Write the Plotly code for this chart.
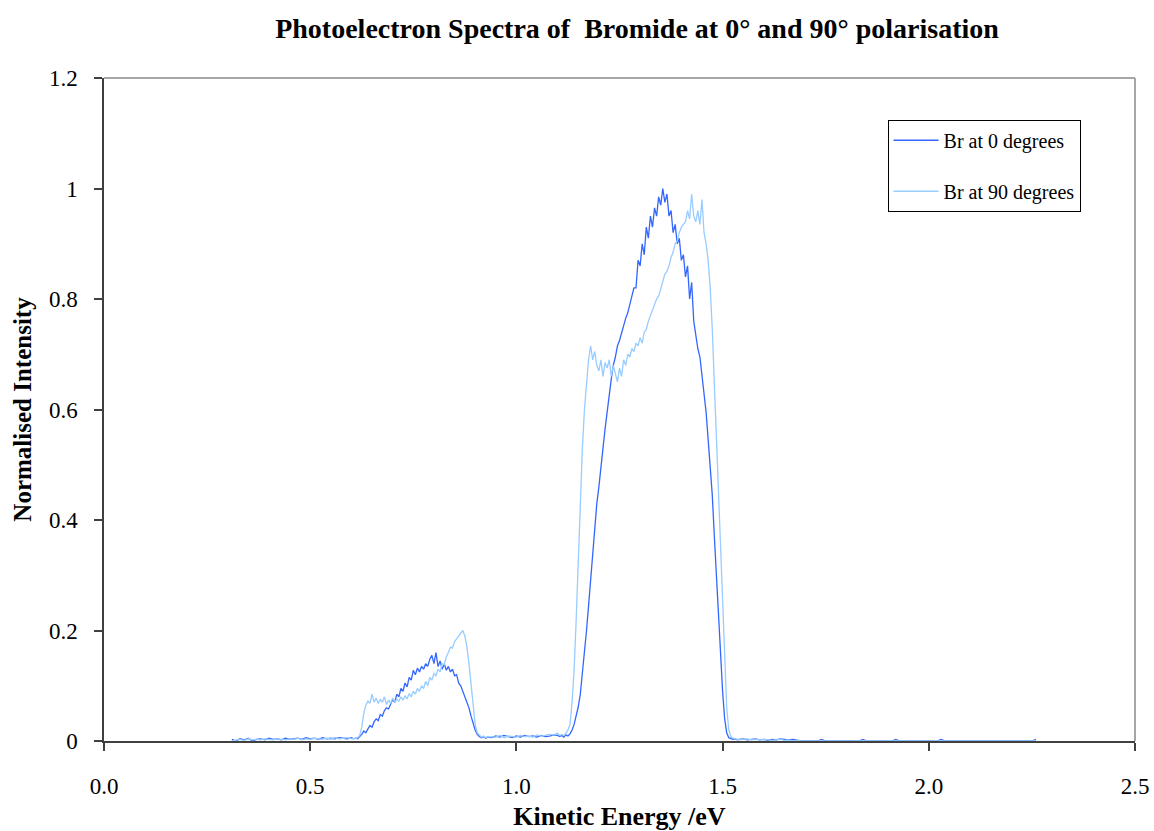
import numpy as np
import plotly.graph_objects as go

# ---------------- data ----------------
# segment 1: low-energy baseline, 0.31 .. 0.60 eV, step 0.01
seg1_start, seg1_step = 0.31, 0.01
br0_seg1 = [0.003, 0.0, 0.004, 0.002, 0.005, 0.0, 0.003, 0.004, 0.002, 0.005,
            0.003, 0.004, 0.002, 0.005, 0.003, 0.004, 0.005, 0.003, 0.006, 0.004,
            0.005, 0.003, 0.006, 0.004, 0.005, 0.004, 0.006, 0.005, 0.004, 0.006]
br90_seg1 = [0.0, 0.002, 0.003, 0.001, 0.004, 0.002, 0.003, 0.002, 0.004, 0.003,
             0.002, 0.004, 0.003, 0.002, 0.004, 0.003, 0.005, 0.002, 0.004, 0.003,
             0.005, 0.004, 0.003, 0.005, 0.004, 0.006, 0.004, 0.005, 0.006, 0.004]

# segment 2: first band, 0.605 .. 0.930 eV, step 0.005
seg2_start, seg2_step = 0.605, 0.005
br0_seg2 = [0.004, 0.005, 0.004, 0.008, 0.012, 0.018, 0.015, 0.022, 0.028, 0.025,
            0.035, 0.040, 0.037, 0.048, 0.045, 0.055, 0.060, 0.058, 0.068, 0.075,
            0.070, 0.085, 0.080, 0.095, 0.090, 0.105, 0.098, 0.115, 0.110, 0.128,
            0.120, 0.132, 0.125, 0.135, 0.130, 0.140, 0.135, 0.148, 0.155, 0.140,
            0.160, 0.135, 0.145, 0.130, 0.140, 0.128, 0.135, 0.125, 0.130, 0.118,
            0.120, 0.105, 0.100, 0.090, 0.080, 0.072, 0.060, 0.045, 0.032, 0.020,
            0.012, 0.008, 0.006, 0.008, 0.005, 0.007]
br90_seg2 = [0.004, 0.005, 0.006, 0.010, 0.025, 0.050, 0.065, 0.072, 0.068, 0.085,
             0.070, 0.078, 0.068, 0.075, 0.070, 0.080, 0.066, 0.074, 0.068, 0.078,
             0.070, 0.076, 0.072, 0.080, 0.074, 0.082, 0.076, 0.086, 0.080, 0.090,
             0.085, 0.095, 0.090, 0.100, 0.095, 0.108, 0.100, 0.115, 0.110, 0.122,
             0.118, 0.130, 0.125, 0.140, 0.138, 0.152, 0.160, 0.170, 0.168, 0.180,
             0.185, 0.190, 0.195, 0.200, 0.190, 0.170, 0.140, 0.100, 0.060, 0.030,
             0.015, 0.010, 0.007, 0.009, 0.006, 0.008]

# segment 3: baseline between bands, 0.94 .. 1.10 eV, step 0.01
seg3_start, seg3_step = 0.94, 0.01
br0_seg3 = [0.006, 0.009, 0.007, 0.010, 0.008, 0.006, 0.009, 0.007, 0.010, 0.008,
            0.009, 0.007, 0.010, 0.008, 0.009, 0.011, 0.010]
br90_seg3 = [0.008, 0.007, 0.010, 0.006, 0.009, 0.008, 0.007, 0.010, 0.008, 0.009,
             0.007, 0.011, 0.009, 0.010, 0.012, 0.011, 0.014]

# segment 4: main band, 1.105 .. 1.540 eV, step 0.005
seg4_start, seg4_step = 1.105, 0.005
br0_seg4 = [0.008, 0.010, 0.007, 0.011, 0.009, 0.013, 0.020, 0.030, 0.045, 0.062,
            0.085, 0.120, 0.165, 0.200, 0.245, 0.290, 0.345, 0.390, 0.430, 0.460,
            0.490, 0.530, 0.565, 0.600, 0.625, 0.655, 0.680, 0.695, 0.715, 0.725,
            0.740, 0.750, 0.765, 0.775, 0.790, 0.800, 0.820, 0.820, 0.870, 0.860,
            0.900, 0.880, 0.930, 0.910, 0.950, 0.930, 0.965, 0.950, 0.985, 0.970,
            1.000, 0.975, 0.990, 0.950, 0.960, 0.920, 0.935, 0.900, 0.910, 0.870,
            0.880, 0.840, 0.860, 0.800, 0.830, 0.760, 0.730, 0.710, 0.695, 0.665,
            0.635, 0.595, 0.545, 0.500, 0.445, 0.370, 0.300, 0.220, 0.150, 0.090,
            0.040, 0.015, 0.006, 0.004, 0.003, 0.004, 0.002, 0.003]
br90_seg4 = [0.010, 0.012, 0.010, 0.014, 0.020, 0.030, 0.070, 0.130, 0.220, 0.330,
             0.430, 0.530, 0.600, 0.655, 0.690, 0.715, 0.690, 0.705, 0.680, 0.670,
             0.690, 0.660, 0.685, 0.675, 0.690, 0.660, 0.680, 0.665, 0.650, 0.675,
             0.660, 0.690, 0.680, 0.700, 0.695, 0.710, 0.705, 0.720, 0.715, 0.730,
             0.720, 0.740, 0.745, 0.760, 0.770, 0.780, 0.790, 0.800, 0.805, 0.820,
             0.835, 0.845, 0.850, 0.860, 0.875, 0.885, 0.900, 0.905, 0.920, 0.930,
             0.935, 0.940, 0.960, 0.945, 0.990, 0.950, 0.940, 0.960, 0.935, 0.980,
             0.920, 0.900, 0.870, 0.820, 0.745, 0.650, 0.560, 0.470, 0.360, 0.270,
             0.170, 0.060, 0.020, 0.008, 0.005, 0.004, 0.003, 0.002]

# segment 5: high-energy tail, 1.55 .. 2.26 eV, step 0.01
seg5_start, seg5_step = 1.55, 0.01
br0_seg5 = [0.004, 0.002, 0.003, 0.004, 0.002, 0.003, 0.001, 0.003, 0.002, 0.004,
            0.003, 0.002, 0.003, 0.001, 0.0, 0.0,
            0.0, 0.0, 0.0, 0.003, 0.0, 0.0, 0.0, 0.0,
            0.0, 0.0, 0.0, 0.0, 0.0, 0.003, 0.0, 0.0,
            0.0, 0.0, 0.0, 0.0, 0.0, 0.003, 0.0, 0.0,
            0.0, 0.0, 0.0, 0.0, 0.0, 0.0, 0.0, 0.0,
            0.003, 0.0, 0.0, 0.0, 0.0, 0.0, 0.0, 0.0,
            0.0, 0.0, 0.0, 0.0, 0.0, 0.0, 0.0, 0.0,
            0.0, 0.0, 0.0, 0.0, 0.0, 0.0, 0.0, 0.003]
br90_seg5 = [0.003, 0.004, 0.002, 0.003, 0.002, 0.003, 0.002, 0.001, 0.002, 0.003,
             0.001, 0.002, 0.0, 0.001, 0.0, 0.0,
             0.0, 0.0, 0.0, 0.0, 0.0, 0.0, 0.0, 0.0,
             0.0, 0.0, 0.0, 0.0, 0.0, 0.0, 0.0, 0.0,
             0.0, 0.0, 0.0, 0.0, 0.0, 0.0, 0.0, 0.0,
             0.0, 0.0, 0.0, 0.0, 0.0, 0.0, 0.0, 0.0,
             0.0, 0.0, 0.0, 0.0, 0.0, 0.0, 0.0, 0.0,
             0.0, 0.0, 0.0, 0.0, 0.0, 0.0, 0.0, 0.0,
             0.0, 0.0, 0.0, 0.0, 0.0, 0.0, 0.0, 0.0]

series_names = ["Br at 0 degrees", "Br at 90 degrees"]
x_tick_vals = [0.0, 0.5, 1.0, 1.5, 2.0, 2.5]
y_tick_vals = [0, 0.2, 0.4, 0.6, 0.8, 1.0, 1.2]
y_tick_text = ["0", "0.2", "0.4", "0.6", "0.8", "1", "1.2"]

segments = [
    (seg1_start, seg1_step, br0_seg1, br90_seg1),
    (seg2_start, seg2_step, br0_seg2, br90_seg2),
    (seg3_start, seg3_step, br0_seg3, br90_seg3),
    (seg4_start, seg4_step, br0_seg4, br90_seg4),
    (seg5_start, seg5_step, br0_seg5, br90_seg5),
]


def build(idx):
    xs, ys = [], []
    for start, step, a, b in segments:
        vals = a if idx == 0 else b
        xs.extend(np.round(start + step * np.arange(len(vals)), 4).tolist())
        ys.extend(vals)
    return xs, ys


x0, y0 = build(0)
x90, y90 = build(1)

SERIF = "Liberation Serif, Times New Roman, serif"

fig = go.Figure()
fig.add_trace(go.Scatter(x=x0, y=y0, mode="lines", name=series_names[0],
                         legendgroup="a",
                         line=dict(color="#3366FF", width=1.3)))
fig.add_trace(go.Scatter(x=x90, y=y90, mode="lines", name=series_names[1],
                         legendgroup="b",
                         line=dict(color="#99CCFF", width=1.3)))

fig.update_layout(
    width=1154, height=831,
    margin=dict(l=104, r=19, t=78, b=90, autoexpand=False),
    paper_bgcolor="white", plot_bgcolor="white",
    font=dict(family=SERIF, color="black", size=18),
    title=dict(text="<b>Photoelectron Spectra of  Bromide at 0° and 90° polarisation</b>",
               x=0.552, xanchor="center", y=1 - 28 / 831, yanchor="middle",
               yref="container", font=dict(family=SERIF, size=28, color="black")),
    showlegend=True,
    legend=dict(x=0.760, xanchor="left", y=0.937, yanchor="top",
                bgcolor="white", bordercolor="black", borderwidth=1,
                traceorder="grouped", tracegroupgap=22, itemwidth=45,
                font=dict(family=SERIF, size=20, color="black")),
    shapes=[
        dict(type="line", xref="paper", yref="paper", x0=0, x1=1, y0=1, y1=1,
             line=dict(color="#A6A6A6", width=2)),
        dict(type="line", xref="paper", yref="paper", x0=1, x1=1, y0=0, y1=1,
             line=dict(color="#A6A6A6", width=2)),
    ],
)

fig.update_xaxes(
    range=[0, 2.5], tickvals=x_tick_vals, tickformat=".1f",
    showgrid=False, zeroline=False, automargin=False,
    showline=True, linecolor="#404040", linewidth=1.5,
    ticks="outside", ticklen=8, tickwidth=1.5, tickcolor="#404040",
    ticklabelstandoff=16,
    tickfont=dict(family=SERIF, size=23, color="black"),
    title=dict(text="<b>Kinetic Energy /eV</b>", standoff=9,
               font=dict(family=SERIF, size=26, color="black")),
)
fig.update_yaxes(
    range=[0, 1.2], tickvals=y_tick_vals, ticktext=y_tick_text,
    showgrid=False, zeroline=False, automargin=False,
    showline=True, linecolor="#404040", linewidth=1.5,
    ticks="outside", ticklen=8, tickwidth=1.5, tickcolor="#404040",
    ticklabelstandoff=12,
    tickfont=dict(family=SERIF, size=23, color="black"),
    title=dict(text="<b>Normalised Intensity</b>", standoff=10,
               font=dict(family=SERIF, size=25, color="black")),
)

fig.write_html("out.html")
